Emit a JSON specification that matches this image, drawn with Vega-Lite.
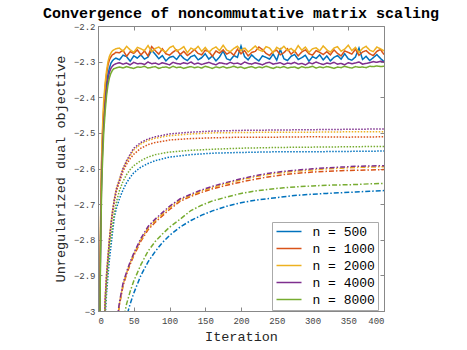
{
  "$schema": "https://vega.github.io/schema/vega-lite/v6.json",
  "width": 286,
  "height": 285,
  "autosize": {"type": "none"},
  "padding": {"left": 98, "top": 26, "right": 83, "bottom": 39},
  "background": "white",
  "title": {"text": "Convergence of noncommutative matrix scaling", "font": "Liberation Mono", "fontSize": 15, "fontWeight": "bold", "color": "#000000", "anchor": "middle", "offset": 1},
  "config": {
    "view": {"stroke": "#888888", "strokeWidth": 1},
    "axis": {"grid": false, "domainColor": "#888888", "tickColor": "#888888", "labelFont": "Liberation Mono", "labelFontSize": 9, "labelColor": "#444444", "titleFont": "Liberation Mono", "titleFontSize": 13.5, "titleFontWeight": "normal", "titleColor": "#262626"}
  },
  "data": {"values": [
    {"k":"s","n":500,"x":0,"y":-4.0},{"k":"s","n":500,"x":1,"y":-3.5},{"k":"s","n":500,"x":2,"y":-3.15},{"k":"s","n":500,"x":3,"y":-2.9},{"k":"s","n":500,"x":4,"y":-2.73},{"k":"s","n":500,"x":5,"y":-2.62},{"k":"s","n":500,"x":6,"y":-2.55},{"k":"s","n":500,"x":7,"y":-2.5},{"k":"s","n":500,"x":8,"y":-2.46},{"k":"s","n":500,"x":10,"y":-2.4},{"k":"s","n":500,"x":12,"y":-2.36},{"k":"s","n":500,"x":14,"y":-2.335},{"k":"s","n":500,"x":16,"y":-2.318},{"k":"s","n":500,"x":18,"y":-2.305},{"k":"s","n":500,"x":20,"y":-2.298},{"k":"s","n":500,"x":22,"y":-2.294},{"k":"s","n":500,"x":25,"y":-2.29},
    {"k":"s","n":500,"x":30,"y":-2.295},{"k":"s","n":500,"x":35,"y":-2.282},{"k":"s","n":500,"x":40,"y":-2.286},{"k":"s","n":500,"x":45,"y":-2.299},{"k":"s","n":500,"x":50,"y":-2.284},{"k":"s","n":500,"x":55,"y":-2.29},{"k":"s","n":500,"x":60,"y":-2.281},{"k":"s","n":500,"x":65,"y":-2.293},{"k":"s","n":500,"x":70,"y":-2.287},{"k":"s","n":500,"x":75,"y":-2.268},{"k":"s","n":500,"x":80,"y":-2.279},{"k":"s","n":500,"x":85,"y":-2.292},{"k":"s","n":500,"x":90,"y":-2.283},{"k":"s","n":500,"x":95,"y":-2.298},{"k":"s","n":500,"x":100,"y":-2.288},{"k":"s","n":500,"x":105,"y":-2.285},{"k":"s","n":500,"x":110,"y":-2.294},{"k":"s","n":500,"x":115,"y":-2.28},{"k":"s","n":500,"x":120,"y":-2.291},{"k":"s","n":500,"x":125,"y":-2.297},{"k":"s","n":500,"x":130,"y":-2.286},{"k":"s","n":500,"x":135,"y":-2.282},{"k":"s","n":500,"x":140,"y":-2.295},{"k":"s","n":500,"x":145,"y":-2.289},{"k":"s","n":500,"x":150,"y":-2.278},{"k":"s","n":500,"x":155,"y":-2.293},{"k":"s","n":500,"x":160,"y":-2.284},{"k":"s","n":500,"x":165,"y":-2.298},{"k":"s","n":500,"x":170,"y":-2.287},{"k":"s","n":500,"x":175,"y":-2.27},{"k":"s","n":500,"x":180,"y":-2.292},{"k":"s","n":500,"x":185,"y":-2.296},{"k":"s","n":500,"x":190,"y":-2.283},{"k":"s","n":500,"x":195,"y":-2.288},{"k":"s","n":500,"x":200,"y":-2.256},{"k":"s","n":500,"x":205,"y":-2.286},{"k":"s","n":500,"x":210,"y":-2.295},{"k":"s","n":500,"x":215,"y":-2.281},{"k":"s","n":500,"x":220,"y":-2.291},{"k":"s","n":500,"x":225,"y":-2.298},{"k":"s","n":500,"x":230,"y":-2.284},{"k":"s","n":500,"x":235,"y":-2.288},{"k":"s","n":500,"x":240,"y":-2.293},{"k":"s","n":500,"x":245,"y":-2.279},{"k":"s","n":500,"x":250,"y":-2.296},{"k":"s","n":500,"x":255,"y":-2.266},{"k":"s","n":500,"x":260,"y":-2.292},{"k":"s","n":500,"x":265,"y":-2.297},{"k":"s","n":500,"x":270,"y":-2.285},{"k":"s","n":500,"x":275,"y":-2.28},{"k":"s","n":500,"x":280,"y":-2.294},{"k":"s","n":500,"x":285,"y":-2.289},{"k":"s","n":500,"x":290,"y":-2.282},{"k":"s","n":500,"x":295,"y":-2.299},{"k":"s","n":500,"x":300,"y":-2.286},{"k":"s","n":500,"x":305,"y":-2.291},{"k":"s","n":500,"x":310,"y":-2.281},{"k":"s","n":500,"x":315,"y":-2.295},{"k":"s","n":500,"x":320,"y":-2.284},{"k":"s","n":500,"x":325,"y":-2.298},{"k":"s","n":500,"x":330,"y":-2.288},{"k":"s","n":500,"x":335,"y":-2.283},{"k":"s","n":500,"x":340,"y":-2.293},{"k":"s","n":500,"x":345,"y":-2.278},{"k":"s","n":500,"x":350,"y":-2.292},{"k":"s","n":500,"x":355,"y":-2.296},{"k":"s","n":500,"x":360,"y":-2.287},{"k":"s","n":500,"x":365,"y":-2.262},{"k":"s","n":500,"x":370,"y":-2.294},{"k":"s","n":500,"x":375,"y":-2.285},{"k":"s","n":500,"x":380,"y":-2.297},{"k":"s","n":500,"x":385,"y":-2.289},{"k":"s","n":500,"x":390,"y":-2.28},{"k":"s","n":500,"x":395,"y":-2.291},{"k":"s","n":500,"x":400,"y":-2.3},
    {"k":"s","n":1000,"x":0,"y":-4.0},{"k":"s","n":1000,"x":1,"y":-3.5},{"k":"s","n":1000,"x":2,"y":-3.12},{"k":"s","n":1000,"x":3,"y":-2.87},{"k":"s","n":1000,"x":4,"y":-2.7},{"k":"s","n":1000,"x":5,"y":-2.59},{"k":"s","n":1000,"x":6,"y":-2.52},{"k":"s","n":1000,"x":7,"y":-2.47},{"k":"s","n":1000,"x":8,"y":-2.43},{"k":"s","n":1000,"x":10,"y":-2.37},{"k":"s","n":1000,"x":12,"y":-2.335},{"k":"s","n":1000,"x":14,"y":-2.31},{"k":"s","n":1000,"x":16,"y":-2.295},{"k":"s","n":1000,"x":18,"y":-2.287},{"k":"s","n":1000,"x":20,"y":-2.281},{"k":"s","n":1000,"x":22,"y":-2.279},{"k":"s","n":1000,"x":25,"y":-2.274},
    {"k":"s","n":1000,"x":30,"y":-2.275},{"k":"s","n":1000,"x":35,"y":-2.268},{"k":"s","n":1000,"x":40,"y":-2.285},{"k":"s","n":1000,"x":45,"y":-2.272},{"k":"s","n":1000,"x":50,"y":-2.277},{"k":"s","n":1000,"x":55,"y":-2.267},{"k":"s","n":1000,"x":60,"y":-2.281},{"k":"s","n":1000,"x":65,"y":-2.27},{"k":"s","n":1000,"x":70,"y":-2.284},{"k":"s","n":1000,"x":75,"y":-2.258},{"k":"s","n":1000,"x":80,"y":-2.269},{"k":"s","n":1000,"x":85,"y":-2.279},{"k":"s","n":1000,"x":90,"y":-2.264},{"k":"s","n":1000,"x":95,"y":-2.278},{"k":"s","n":1000,"x":100,"y":-2.282},{"k":"s","n":1000,"x":105,"y":-2.273},{"k":"s","n":1000,"x":110,"y":-2.267},{"k":"s","n":1000,"x":115,"y":-2.28},{"k":"s","n":1000,"x":120,"y":-2.271},{"k":"s","n":1000,"x":125,"y":-2.283},{"k":"s","n":1000,"x":130,"y":-2.275},{"k":"s","n":1000,"x":135,"y":-2.266},{"k":"s","n":1000,"x":140,"y":-2.277},{"k":"s","n":1000,"x":145,"y":-2.281},{"k":"s","n":1000,"x":150,"y":-2.268},{"k":"s","n":1000,"x":155,"y":-2.272},{"k":"s","n":1000,"x":160,"y":-2.285},{"k":"s","n":1000,"x":165,"y":-2.27},{"k":"s","n":1000,"x":170,"y":-2.276},{"k":"s","n":1000,"x":175,"y":-2.267},{"k":"s","n":1000,"x":180,"y":-2.279},{"k":"s","n":1000,"x":185,"y":-2.273},{"k":"s","n":1000,"x":190,"y":-2.282},{"k":"s","n":1000,"x":195,"y":-2.265},{"k":"s","n":1000,"x":200,"y":-2.278},{"k":"s","n":1000,"x":205,"y":-2.269},{"k":"s","n":1000,"x":210,"y":-2.284},{"k":"s","n":1000,"x":215,"y":-2.274},{"k":"s","n":1000,"x":220,"y":-2.271},{"k":"s","n":1000,"x":225,"y":-2.259},{"k":"s","n":1000,"x":230,"y":-2.266},{"k":"s","n":1000,"x":235,"y":-2.277},{"k":"s","n":1000,"x":240,"y":-2.283},{"k":"s","n":1000,"x":245,"y":-2.272},{"k":"s","n":1000,"x":250,"y":-2.268},{"k":"s","n":1000,"x":255,"y":-2.281},{"k":"s","n":1000,"x":260,"y":-2.275},{"k":"s","n":1000,"x":265,"y":-2.264},{"k":"s","n":1000,"x":270,"y":-2.279},{"k":"s","n":1000,"x":275,"y":-2.27},{"k":"s","n":1000,"x":280,"y":-2.284},{"k":"s","n":1000,"x":285,"y":-2.273},{"k":"s","n":1000,"x":290,"y":-2.267},{"k":"s","n":1000,"x":295,"y":-2.278},{"k":"s","n":1000,"x":300,"y":-2.282},{"k":"s","n":1000,"x":305,"y":-2.269},{"k":"s","n":1000,"x":310,"y":-2.274},{"k":"s","n":1000,"x":315,"y":-2.28},{"k":"s","n":1000,"x":320,"y":-2.272},{"k":"s","n":1000,"x":325,"y":-2.281},{"k":"s","n":1000,"x":330,"y":-2.267},{"k":"s","n":1000,"x":335,"y":-2.277},{"k":"s","n":1000,"x":340,"y":-2.284},{"k":"s","n":1000,"x":345,"y":-2.27},{"k":"s","n":1000,"x":350,"y":-2.274},{"k":"s","n":1000,"x":355,"y":-2.279},{"k":"s","n":1000,"x":360,"y":-2.265},{"k":"s","n":1000,"x":365,"y":-2.282},{"k":"s","n":1000,"x":370,"y":-2.273},{"k":"s","n":1000,"x":375,"y":-2.269},{"k":"s","n":1000,"x":380,"y":-2.278},{"k":"s","n":1000,"x":385,"y":-2.283},{"k":"s","n":1000,"x":390,"y":-2.271},{"k":"s","n":1000,"x":395,"y":-2.266},{"k":"s","n":1000,"x":400,"y":-2.28},
    {"k":"s","n":2000,"x":0,"y":-4.0},{"k":"s","n":2000,"x":1,"y":-3.45},{"k":"s","n":2000,"x":2,"y":-3.1},{"k":"s","n":2000,"x":3,"y":-2.85},{"k":"s","n":2000,"x":4,"y":-2.68},{"k":"s","n":2000,"x":5,"y":-2.57},{"k":"s","n":2000,"x":6,"y":-2.5},{"k":"s","n":2000,"x":7,"y":-2.45},{"k":"s","n":2000,"x":8,"y":-2.41},{"k":"s","n":2000,"x":10,"y":-2.36},{"k":"s","n":2000,"x":12,"y":-2.325},{"k":"s","n":2000,"x":14,"y":-2.3},{"k":"s","n":2000,"x":16,"y":-2.285},{"k":"s","n":2000,"x":18,"y":-2.276},{"k":"s","n":2000,"x":20,"y":-2.27},{"k":"s","n":2000,"x":22,"y":-2.267},{"k":"s","n":2000,"x":25,"y":-2.264},
    {"k":"s","n":2000,"x":30,"y":-2.262},{"k":"s","n":2000,"x":35,"y":-2.271},{"k":"s","n":2000,"x":40,"y":-2.257},{"k":"s","n":2000,"x":45,"y":-2.267},{"k":"s","n":2000,"x":50,"y":-2.274},{"k":"s","n":2000,"x":55,"y":-2.26},{"k":"s","n":2000,"x":60,"y":-2.264},{"k":"s","n":2000,"x":65,"y":-2.269},{"k":"s","n":2000,"x":70,"y":-2.255},{"k":"s","n":2000,"x":75,"y":-2.272},{"k":"s","n":2000,"x":80,"y":-2.263},{"k":"s","n":2000,"x":85,"y":-2.259},{"k":"s","n":2000,"x":90,"y":-2.268},{"k":"s","n":2000,"x":95,"y":-2.273},{"k":"s","n":2000,"x":100,"y":-2.261},{"k":"s","n":2000,"x":105,"y":-2.256},{"k":"s","n":2000,"x":110,"y":-2.27},{"k":"s","n":2000,"x":115,"y":-2.265},{"k":"s","n":2000,"x":120,"y":-2.258},{"k":"s","n":2000,"x":125,"y":-2.275},{"k":"s","n":2000,"x":130,"y":-2.262},{"k":"s","n":2000,"x":135,"y":-2.267},{"k":"s","n":2000,"x":140,"y":-2.257},{"k":"s","n":2000,"x":145,"y":-2.271},{"k":"s","n":2000,"x":150,"y":-2.26},{"k":"s","n":2000,"x":155,"y":-2.274},{"k":"s","n":2000,"x":160,"y":-2.264},{"k":"s","n":2000,"x":165,"y":-2.259},{"k":"s","n":2000,"x":170,"y":-2.269},{"k":"s","n":2000,"x":175,"y":-2.254},{"k":"s","n":2000,"x":180,"y":-2.268},{"k":"s","n":2000,"x":185,"y":-2.272},{"k":"s","n":2000,"x":190,"y":-2.263},{"k":"s","n":2000,"x":195,"y":-2.257},{"k":"s","n":2000,"x":200,"y":-2.27},{"k":"s","n":2000,"x":205,"y":-2.261},{"k":"s","n":2000,"x":210,"y":-2.273},{"k":"s","n":2000,"x":215,"y":-2.265},{"k":"s","n":2000,"x":220,"y":-2.256},{"k":"s","n":2000,"x":225,"y":-2.267},{"k":"s","n":2000,"x":230,"y":-2.271},{"k":"s","n":2000,"x":235,"y":-2.258},{"k":"s","n":2000,"x":240,"y":-2.262},{"k":"s","n":2000,"x":245,"y":-2.275},{"k":"s","n":2000,"x":250,"y":-2.26},{"k":"s","n":2000,"x":255,"y":-2.266},{"k":"s","n":2000,"x":260,"y":-2.257},{"k":"s","n":2000,"x":265,"y":-2.269},{"k":"s","n":2000,"x":270,"y":-2.263},{"k":"s","n":2000,"x":275,"y":-2.272},{"k":"s","n":2000,"x":280,"y":-2.255},{"k":"s","n":2000,"x":285,"y":-2.268},{"k":"s","n":2000,"x":290,"y":-2.259},{"k":"s","n":2000,"x":295,"y":-2.274},{"k":"s","n":2000,"x":300,"y":-2.264},{"k":"s","n":2000,"x":305,"y":-2.261},{"k":"s","n":2000,"x":310,"y":-2.27},{"k":"s","n":2000,"x":315,"y":-2.256},{"k":"s","n":2000,"x":320,"y":-2.267},{"k":"s","n":2000,"x":325,"y":-2.273},{"k":"s","n":2000,"x":330,"y":-2.262},{"k":"s","n":2000,"x":335,"y":-2.258},{"k":"s","n":2000,"x":340,"y":-2.271},{"k":"s","n":2000,"x":345,"y":-2.265},{"k":"s","n":2000,"x":350,"y":-2.254},{"k":"s","n":2000,"x":355,"y":-2.269},{"k":"s","n":2000,"x":360,"y":-2.26},{"k":"s","n":2000,"x":365,"y":-2.274},{"k":"s","n":2000,"x":370,"y":-2.263},{"k":"s","n":2000,"x":375,"y":-2.257},{"k":"s","n":2000,"x":380,"y":-2.268},{"k":"s","n":2000,"x":385,"y":-2.272},{"k":"s","n":2000,"x":390,"y":-2.259},{"k":"s","n":2000,"x":395,"y":-2.264},{"k":"s","n":2000,"x":400,"y":-2.27},
    {"k":"s","n":4000,"x":0,"y":-4.0},{"k":"s","n":4000,"x":1,"y":-3.55},{"k":"s","n":4000,"x":2,"y":-3.17},{"k":"s","n":4000,"x":3,"y":-2.92},{"k":"s","n":4000,"x":4,"y":-2.75},{"k":"s","n":4000,"x":5,"y":-2.64},{"k":"s","n":4000,"x":6,"y":-2.57},{"k":"s","n":4000,"x":7,"y":-2.52},{"k":"s","n":4000,"x":8,"y":-2.48},{"k":"s","n":4000,"x":10,"y":-2.42},{"k":"s","n":4000,"x":12,"y":-2.38},{"k":"s","n":4000,"x":14,"y":-2.35},{"k":"s","n":4000,"x":16,"y":-2.33},{"k":"s","n":4000,"x":18,"y":-2.319},{"k":"s","n":4000,"x":20,"y":-2.313},{"k":"s","n":4000,"x":22,"y":-2.309},{"k":"s","n":4000,"x":25,"y":-2.306},
    {"k":"s","n":4000,"x":30,"y":-2.303},{"k":"s","n":4000,"x":35,"y":-2.307},{"k":"s","n":4000,"x":40,"y":-2.304},{"k":"s","n":4000,"x":45,"y":-2.309},{"k":"s","n":4000,"x":50,"y":-2.302},{"k":"s","n":4000,"x":55,"y":-2.306},{"k":"s","n":4000,"x":60,"y":-2.305},{"k":"s","n":4000,"x":65,"y":-2.308},{"k":"s","n":4000,"x":70,"y":-2.301},{"k":"s","n":4000,"x":75,"y":-2.306},{"k":"s","n":4000,"x":80,"y":-2.304},{"k":"s","n":4000,"x":85,"y":-2.308},{"k":"s","n":4000,"x":90,"y":-2.303},{"k":"s","n":4000,"x":95,"y":-2.306},{"k":"s","n":4000,"x":100,"y":-2.309},{"k":"s","n":4000,"x":105,"y":-2.302},{"k":"s","n":4000,"x":110,"y":-2.305},{"k":"s","n":4000,"x":115,"y":-2.307},{"k":"s","n":4000,"x":120,"y":-2.303},{"k":"s","n":4000,"x":125,"y":-2.306},{"k":"s","n":4000,"x":130,"y":-2.301},{"k":"s","n":4000,"x":135,"y":-2.307},{"k":"s","n":4000,"x":140,"y":-2.304},{"k":"s","n":4000,"x":145,"y":-2.308},{"k":"s","n":4000,"x":150,"y":-2.305},{"k":"s","n":4000,"x":155,"y":-2.302},{"k":"s","n":4000,"x":160,"y":-2.306},{"k":"s","n":4000,"x":165,"y":-2.309},{"k":"s","n":4000,"x":170,"y":-2.303},{"k":"s","n":4000,"x":175,"y":-2.305},{"k":"s","n":4000,"x":180,"y":-2.307},{"k":"s","n":4000,"x":185,"y":-2.302},{"k":"s","n":4000,"x":190,"y":-2.306},{"k":"s","n":4000,"x":195,"y":-2.304},{"k":"s","n":4000,"x":200,"y":-2.308},{"k":"s","n":4000,"x":205,"y":-2.301},{"k":"s","n":4000,"x":210,"y":-2.305},{"k":"s","n":4000,"x":215,"y":-2.307},{"k":"s","n":4000,"x":220,"y":-2.303},{"k":"s","n":4000,"x":225,"y":-2.306},{"k":"s","n":4000,"x":230,"y":-2.309},{"k":"s","n":4000,"x":235,"y":-2.304},{"k":"s","n":4000,"x":240,"y":-2.302},{"k":"s","n":4000,"x":245,"y":-2.307},{"k":"s","n":4000,"x":250,"y":-2.305},{"k":"s","n":4000,"x":255,"y":-2.303},{"k":"s","n":4000,"x":260,"y":-2.308},{"k":"s","n":4000,"x":265,"y":-2.304},{"k":"s","n":4000,"x":270,"y":-2.306},{"k":"s","n":4000,"x":275,"y":-2.302},{"k":"s","n":4000,"x":280,"y":-2.307},{"k":"s","n":4000,"x":285,"y":-2.305},{"k":"s","n":4000,"x":290,"y":-2.309},{"k":"s","n":4000,"x":295,"y":-2.303},{"k":"s","n":4000,"x":300,"y":-2.306},{"k":"s","n":4000,"x":305,"y":-2.301},{"k":"s","n":4000,"x":310,"y":-2.305},{"k":"s","n":4000,"x":315,"y":-2.308},{"k":"s","n":4000,"x":320,"y":-2.304},{"k":"s","n":4000,"x":325,"y":-2.306},{"k":"s","n":4000,"x":330,"y":-2.302},{"k":"s","n":4000,"x":335,"y":-2.307},{"k":"s","n":4000,"x":340,"y":-2.305},{"k":"s","n":4000,"x":345,"y":-2.309},{"k":"s","n":4000,"x":350,"y":-2.303},{"k":"s","n":4000,"x":355,"y":-2.306},{"k":"s","n":4000,"x":360,"y":-2.304},{"k":"s","n":4000,"x":365,"y":-2.301},{"k":"s","n":4000,"x":370,"y":-2.307},{"k":"s","n":4000,"x":375,"y":-2.305},{"k":"s","n":4000,"x":380,"y":-2.303},{"k":"s","n":4000,"x":385,"y":-2.3},{"k":"s","n":4000,"x":390,"y":-2.302},{"k":"s","n":4000,"x":395,"y":-2.299},{"k":"s","n":4000,"x":400,"y":-2.301},
    {"k":"s","n":8000,"x":0,"y":-4.0},{"k":"s","n":8000,"x":1,"y":-3.6},{"k":"s","n":8000,"x":2,"y":-3.2},{"k":"s","n":8000,"x":3,"y":-2.95},{"k":"s","n":8000,"x":4,"y":-2.78},{"k":"s","n":8000,"x":5,"y":-2.67},{"k":"s","n":8000,"x":6,"y":-2.6},{"k":"s","n":8000,"x":7,"y":-2.55},{"k":"s","n":8000,"x":8,"y":-2.5},{"k":"s","n":8000,"x":10,"y":-2.44},{"k":"s","n":8000,"x":12,"y":-2.395},{"k":"s","n":8000,"x":14,"y":-2.365},{"k":"s","n":8000,"x":16,"y":-2.345},{"k":"s","n":8000,"x":18,"y":-2.333},{"k":"s","n":8000,"x":20,"y":-2.325},{"k":"s","n":8000,"x":22,"y":-2.32},{"k":"s","n":8000,"x":25,"y":-2.318},
    {"k":"s","n":8000,"x":30,"y":-2.315},{"k":"s","n":8000,"x":35,"y":-2.318},{"k":"s","n":8000,"x":40,"y":-2.314},{"k":"s","n":8000,"x":45,"y":-2.317},{"k":"s","n":8000,"x":50,"y":-2.319},{"k":"s","n":8000,"x":55,"y":-2.315},{"k":"s","n":8000,"x":60,"y":-2.316},{"k":"s","n":8000,"x":65,"y":-2.313},{"k":"s","n":8000,"x":70,"y":-2.318},{"k":"s","n":8000,"x":75,"y":-2.316},{"k":"s","n":8000,"x":80,"y":-2.314},{"k":"s","n":8000,"x":85,"y":-2.319},{"k":"s","n":8000,"x":90,"y":-2.316},{"k":"s","n":8000,"x":95,"y":-2.315},{"k":"s","n":8000,"x":100,"y":-2.318},{"k":"s","n":8000,"x":105,"y":-2.313},{"k":"s","n":8000,"x":110,"y":-2.317},{"k":"s","n":8000,"x":115,"y":-2.315},{"k":"s","n":8000,"x":120,"y":-2.319},{"k":"s","n":8000,"x":125,"y":-2.316},{"k":"s","n":8000,"x":130,"y":-2.314},{"k":"s","n":8000,"x":135,"y":-2.317},{"k":"s","n":8000,"x":140,"y":-2.315},{"k":"s","n":8000,"x":145,"y":-2.318},{"k":"s","n":8000,"x":150,"y":-2.313},{"k":"s","n":8000,"x":155,"y":-2.316},{"k":"s","n":8000,"x":160,"y":-2.319},{"k":"s","n":8000,"x":165,"y":-2.315},{"k":"s","n":8000,"x":170,"y":-2.317},{"k":"s","n":8000,"x":175,"y":-2.314},{"k":"s","n":8000,"x":180,"y":-2.318},{"k":"s","n":8000,"x":185,"y":-2.316},{"k":"s","n":8000,"x":190,"y":-2.313},{"k":"s","n":8000,"x":195,"y":-2.317},{"k":"s","n":8000,"x":200,"y":-2.315},{"k":"s","n":8000,"x":205,"y":-2.319},{"k":"s","n":8000,"x":210,"y":-2.316},{"k":"s","n":8000,"x":215,"y":-2.314},{"k":"s","n":8000,"x":220,"y":-2.318},{"k":"s","n":8000,"x":225,"y":-2.315},{"k":"s","n":8000,"x":230,"y":-2.317},{"k":"s","n":8000,"x":235,"y":-2.313},{"k":"s","n":8000,"x":240,"y":-2.316},{"k":"s","n":8000,"x":245,"y":-2.319},{"k":"s","n":8000,"x":250,"y":-2.315},{"k":"s","n":8000,"x":255,"y":-2.317},{"k":"s","n":8000,"x":260,"y":-2.314},{"k":"s","n":8000,"x":265,"y":-2.318},{"k":"s","n":8000,"x":270,"y":-2.316},{"k":"s","n":8000,"x":275,"y":-2.315},{"k":"s","n":8000,"x":280,"y":-2.319},{"k":"s","n":8000,"x":285,"y":-2.314},{"k":"s","n":8000,"x":290,"y":-2.317},{"k":"s","n":8000,"x":295,"y":-2.316},{"k":"s","n":8000,"x":300,"y":-2.313},{"k":"s","n":8000,"x":305,"y":-2.318},{"k":"s","n":8000,"x":310,"y":-2.315},{"k":"s","n":8000,"x":315,"y":-2.317},{"k":"s","n":8000,"x":320,"y":-2.314},{"k":"s","n":8000,"x":325,"y":-2.316},{"k":"s","n":8000,"x":330,"y":-2.319},{"k":"s","n":8000,"x":335,"y":-2.315},{"k":"s","n":8000,"x":340,"y":-2.317},{"k":"s","n":8000,"x":345,"y":-2.313},{"k":"s","n":8000,"x":350,"y":-2.316},{"k":"s","n":8000,"x":355,"y":-2.318},{"k":"s","n":8000,"x":360,"y":-2.314},{"k":"s","n":8000,"x":365,"y":-2.316},{"k":"s","n":8000,"x":370,"y":-2.315},{"k":"s","n":8000,"x":375,"y":-2.317},{"k":"s","n":8000,"x":380,"y":-2.313},{"k":"s","n":8000,"x":385,"y":-2.314},{"k":"s","n":8000,"x":390,"y":-2.312},{"k":"s","n":8000,"x":395,"y":-2.314},{"k":"s","n":8000,"x":400,"y":-2.313},
    {"k":"d","n":500,"x":8,"y":-3.2},{"k":"d","n":500,"x":10,"y":-3.02},{"k":"d","n":500,"x":12,"y":-2.95},{"k":"d","n":500,"x":14,"y":-2.9},{"k":"d","n":500,"x":16,"y":-2.855},{"k":"d","n":500,"x":18,"y":-2.82},{"k":"d","n":500,"x":20,"y":-2.785},{"k":"d","n":500,"x":23,"y":-2.735},{"k":"d","n":500,"x":26,"y":-2.71},{"k":"d","n":500,"x":30,"y":-2.685},{"k":"d","n":500,"x":35,"y":-2.66},{"k":"d","n":500,"x":40,"y":-2.64},{"k":"d","n":500,"x":45,"y":-2.625},{"k":"d","n":500,"x":50,"y":-2.612},{"k":"d","n":500,"x":60,"y":-2.596},{"k":"d","n":500,"x":70,"y":-2.586},{"k":"d","n":500,"x":80,"y":-2.578},{"k":"d","n":500,"x":100,"y":-2.568},{"k":"d","n":500,"x":130,"y":-2.561},{"k":"d","n":500,"x":160,"y":-2.557},{"k":"d","n":500,"x":200,"y":-2.555},{"k":"d","n":500,"x":250,"y":-2.553},{"k":"d","n":500,"x":300,"y":-2.553},{"k":"d","n":500,"x":350,"y":-2.552},{"k":"d","n":500,"x":400,"y":-2.551},
    {"k":"d","n":1000,"x":8,"y":-3.12},{"k":"d","n":1000,"x":10,"y":-2.97},{"k":"d","n":1000,"x":12,"y":-2.9},{"k":"d","n":1000,"x":14,"y":-2.85},{"k":"d","n":1000,"x":16,"y":-2.8},{"k":"d","n":1000,"x":18,"y":-2.762},{"k":"d","n":1000,"x":20,"y":-2.73},{"k":"d","n":1000,"x":23,"y":-2.69},{"k":"d","n":1000,"x":26,"y":-2.662},{"k":"d","n":1000,"x":30,"y":-2.638},{"k":"d","n":1000,"x":35,"y":-2.608},{"k":"d","n":1000,"x":40,"y":-2.588},{"k":"d","n":1000,"x":45,"y":-2.572},{"k":"d","n":1000,"x":50,"y":-2.56},{"k":"d","n":1000,"x":60,"y":-2.543},{"k":"d","n":1000,"x":70,"y":-2.533},{"k":"d","n":1000,"x":80,"y":-2.527},{"k":"d","n":1000,"x":100,"y":-2.52},{"k":"d","n":1000,"x":130,"y":-2.516},{"k":"d","n":1000,"x":160,"y":-2.514},{"k":"d","n":1000,"x":200,"y":-2.512},{"k":"d","n":1000,"x":250,"y":-2.512},{"k":"d","n":1000,"x":300,"y":-2.511},{"k":"d","n":1000,"x":350,"y":-2.512},{"k":"d","n":1000,"x":400,"y":-2.511},
    {"k":"d","n":2000,"x":8,"y":-3.1},{"k":"d","n":2000,"x":10,"y":-2.96},{"k":"d","n":2000,"x":12,"y":-2.89},{"k":"d","n":2000,"x":14,"y":-2.84},{"k":"d","n":2000,"x":16,"y":-2.795},{"k":"d","n":2000,"x":18,"y":-2.755},{"k":"d","n":2000,"x":20,"y":-2.722},{"k":"d","n":2000,"x":23,"y":-2.683},{"k":"d","n":2000,"x":26,"y":-2.654},{"k":"d","n":2000,"x":30,"y":-2.63},{"k":"d","n":2000,"x":35,"y":-2.6},{"k":"d","n":2000,"x":40,"y":-2.58},{"k":"d","n":2000,"x":45,"y":-2.563},{"k":"d","n":2000,"x":50,"y":-2.548},{"k":"d","n":2000,"x":60,"y":-2.531},{"k":"d","n":2000,"x":70,"y":-2.521},{"k":"d","n":2000,"x":80,"y":-2.515},{"k":"d","n":2000,"x":100,"y":-2.508},{"k":"d","n":2000,"x":130,"y":-2.503},{"k":"d","n":2000,"x":160,"y":-2.5},{"k":"d","n":2000,"x":200,"y":-2.499},{"k":"d","n":2000,"x":250,"y":-2.498},{"k":"d","n":2000,"x":300,"y":-2.498},{"k":"d","n":2000,"x":350,"y":-2.497},{"k":"d","n":2000,"x":400,"y":-2.497},
    {"k":"d","n":4000,"x":8,"y":-3.12},{"k":"d","n":4000,"x":10,"y":-2.97},{"k":"d","n":4000,"x":12,"y":-2.9},{"k":"d","n":4000,"x":14,"y":-2.85},{"k":"d","n":4000,"x":16,"y":-2.8},{"k":"d","n":4000,"x":18,"y":-2.76},{"k":"d","n":4000,"x":20,"y":-2.725},{"k":"d","n":4000,"x":23,"y":-2.685},{"k":"d","n":4000,"x":26,"y":-2.655},{"k":"d","n":4000,"x":30,"y":-2.632},{"k":"d","n":4000,"x":35,"y":-2.6},{"k":"d","n":4000,"x":40,"y":-2.578},{"k":"d","n":4000,"x":45,"y":-2.56},{"k":"d","n":4000,"x":50,"y":-2.543},{"k":"d","n":4000,"x":60,"y":-2.527},{"k":"d","n":4000,"x":70,"y":-2.517},{"k":"d","n":4000,"x":80,"y":-2.511},{"k":"d","n":4000,"x":100,"y":-2.503},{"k":"d","n":4000,"x":130,"y":-2.498},{"k":"d","n":4000,"x":160,"y":-2.495},{"k":"d","n":4000,"x":200,"y":-2.493},{"k":"d","n":4000,"x":250,"y":-2.492},{"k":"d","n":4000,"x":300,"y":-2.491},{"k":"d","n":4000,"x":350,"y":-2.49},{"k":"d","n":4000,"x":400,"y":-2.489},
    {"k":"d","n":8000,"x":8,"y":-3.15},{"k":"d","n":8000,"x":10,"y":-3.0},{"k":"d","n":8000,"x":12,"y":-2.93},{"k":"d","n":8000,"x":14,"y":-2.87},{"k":"d","n":8000,"x":16,"y":-2.825},{"k":"d","n":8000,"x":18,"y":-2.793},{"k":"d","n":8000,"x":20,"y":-2.765},{"k":"d","n":8000,"x":23,"y":-2.722},{"k":"d","n":8000,"x":26,"y":-2.692},{"k":"d","n":8000,"x":30,"y":-2.662},{"k":"d","n":8000,"x":35,"y":-2.636},{"k":"d","n":8000,"x":40,"y":-2.617},{"k":"d","n":8000,"x":45,"y":-2.603},{"k":"d","n":8000,"x":50,"y":-2.592},{"k":"d","n":8000,"x":60,"y":-2.578},{"k":"d","n":8000,"x":70,"y":-2.568},{"k":"d","n":8000,"x":80,"y":-2.561},{"k":"d","n":8000,"x":100,"y":-2.554},{"k":"d","n":8000,"x":130,"y":-2.549},{"k":"d","n":8000,"x":160,"y":-2.546},{"k":"d","n":8000,"x":200,"y":-2.543},{"k":"d","n":8000,"x":250,"y":-2.541},{"k":"d","n":8000,"x":300,"y":-2.54},{"k":"d","n":8000,"x":350,"y":-2.539},{"k":"d","n":8000,"x":400,"y":-2.538},
    {"k":"c","n":500,"x":25,"y":-3.21},{"k":"c","n":500,"x":30,"y":-3.13},{"k":"c","n":500,"x":35,"y":-3.065},{"k":"c","n":500,"x":40,"y":-3.015},{"k":"c","n":500,"x":45,"y":-2.98},{"k":"c","n":500,"x":50,"y":-2.95},{"k":"c","n":500,"x":60,"y":-2.9},{"k":"c","n":500,"x":70,"y":-2.862},{"k":"c","n":500,"x":80,"y":-2.833},{"k":"c","n":500,"x":90,"y":-2.808},{"k":"c","n":500,"x":100,"y":-2.788},{"k":"c","n":500,"x":115,"y":-2.764},{"k":"c","n":500,"x":130,"y":-2.746},{"k":"c","n":500,"x":145,"y":-2.731},{"k":"c","n":500,"x":160,"y":-2.719},{"k":"c","n":500,"x":180,"y":-2.706},{"k":"c","n":500,"x":200,"y":-2.696},{"k":"c","n":500,"x":220,"y":-2.689},{"k":"c","n":500,"x":240,"y":-2.684},{"k":"c","n":500,"x":260,"y":-2.679},{"k":"c","n":500,"x":280,"y":-2.675},{"k":"c","n":500,"x":300,"y":-2.672},{"k":"c","n":500,"x":320,"y":-2.67},{"k":"c","n":500,"x":340,"y":-2.668},{"k":"c","n":500,"x":360,"y":-2.666},{"k":"c","n":500,"x":380,"y":-2.664},{"k":"c","n":500,"x":400,"y":-2.662},
    {"k":"c","n":1000,"x":25,"y":-3.06},{"k":"c","n":1000,"x":30,"y":-2.983},{"k":"c","n":1000,"x":35,"y":-2.93},{"k":"c","n":1000,"x":40,"y":-2.897},{"k":"c","n":1000,"x":45,"y":-2.869},{"k":"c","n":1000,"x":50,"y":-2.845},{"k":"c","n":1000,"x":60,"y":-2.804},{"k":"c","n":1000,"x":70,"y":-2.772},{"k":"c","n":1000,"x":80,"y":-2.751},{"k":"c","n":1000,"x":90,"y":-2.733},{"k":"c","n":1000,"x":100,"y":-2.715},{"k":"c","n":1000,"x":115,"y":-2.692},{"k":"c","n":1000,"x":130,"y":-2.678},{"k":"c","n":1000,"x":145,"y":-2.667},{"k":"c","n":1000,"x":160,"y":-2.657},{"k":"c","n":1000,"x":180,"y":-2.647},{"k":"c","n":1000,"x":200,"y":-2.638},{"k":"c","n":1000,"x":220,"y":-2.63},{"k":"c","n":1000,"x":240,"y":-2.623},{"k":"c","n":1000,"x":260,"y":-2.617},{"k":"c","n":1000,"x":280,"y":-2.613},{"k":"c","n":1000,"x":300,"y":-2.61},{"k":"c","n":1000,"x":320,"y":-2.608},{"k":"c","n":1000,"x":340,"y":-2.606},{"k":"c","n":1000,"x":360,"y":-2.605},{"k":"c","n":1000,"x":380,"y":-2.604},{"k":"c","n":1000,"x":400,"y":-2.603},
    {"k":"c","n":2000,"x":25,"y":-3.055},{"k":"c","n":2000,"x":30,"y":-2.979},{"k":"c","n":2000,"x":35,"y":-2.926},{"k":"c","n":2000,"x":40,"y":-2.893},{"k":"c","n":2000,"x":45,"y":-2.865},{"k":"c","n":2000,"x":50,"y":-2.841},{"k":"c","n":2000,"x":60,"y":-2.8},{"k":"c","n":2000,"x":70,"y":-2.767},{"k":"c","n":2000,"x":80,"y":-2.746},{"k":"c","n":2000,"x":90,"y":-2.728},{"k":"c","n":2000,"x":100,"y":-2.71},{"k":"c","n":2000,"x":115,"y":-2.688},{"k":"c","n":2000,"x":130,"y":-2.675},{"k":"c","n":2000,"x":145,"y":-2.663},{"k":"c","n":2000,"x":160,"y":-2.653},{"k":"c","n":2000,"x":180,"y":-2.642},{"k":"c","n":2000,"x":200,"y":-2.632},{"k":"c","n":2000,"x":220,"y":-2.623},{"k":"c","n":2000,"x":240,"y":-2.616},{"k":"c","n":2000,"x":260,"y":-2.611},{"k":"c","n":2000,"x":280,"y":-2.607},{"k":"c","n":2000,"x":300,"y":-2.604},{"k":"c","n":2000,"x":320,"y":-2.601},{"k":"c","n":2000,"x":340,"y":-2.599},{"k":"c","n":2000,"x":360,"y":-2.597},{"k":"c","n":2000,"x":380,"y":-2.596},{"k":"c","n":2000,"x":400,"y":-2.595},
    {"k":"c","n":4000,"x":25,"y":-3.05},{"k":"c","n":4000,"x":30,"y":-2.975},{"k":"c","n":4000,"x":35,"y":-2.922},{"k":"c","n":4000,"x":40,"y":-2.89},{"k":"c","n":4000,"x":45,"y":-2.862},{"k":"c","n":4000,"x":50,"y":-2.838},{"k":"c","n":4000,"x":60,"y":-2.796},{"k":"c","n":4000,"x":70,"y":-2.763},{"k":"c","n":4000,"x":80,"y":-2.742},{"k":"c","n":4000,"x":90,"y":-2.724},{"k":"c","n":4000,"x":100,"y":-2.706},{"k":"c","n":4000,"x":115,"y":-2.685},{"k":"c","n":4000,"x":130,"y":-2.672},{"k":"c","n":4000,"x":145,"y":-2.66},{"k":"c","n":4000,"x":160,"y":-2.65},{"k":"c","n":4000,"x":180,"y":-2.639},{"k":"c","n":4000,"x":200,"y":-2.629},{"k":"c","n":4000,"x":220,"y":-2.62},{"k":"c","n":4000,"x":240,"y":-2.613},{"k":"c","n":4000,"x":260,"y":-2.608},{"k":"c","n":4000,"x":280,"y":-2.604},{"k":"c","n":4000,"x":300,"y":-2.601},{"k":"c","n":4000,"x":320,"y":-2.598},{"k":"c","n":4000,"x":340,"y":-2.596},{"k":"c","n":4000,"x":360,"y":-2.594},{"k":"c","n":4000,"x":380,"y":-2.593},{"k":"c","n":4000,"x":400,"y":-2.592},
    {"k":"c","n":8000,"x":30,"y":-3.1},{"k":"c","n":8000,"x":35,"y":-3.03},{"k":"c","n":8000,"x":40,"y":-2.98},{"k":"c","n":8000,"x":45,"y":-2.945},{"k":"c","n":8000,"x":50,"y":-2.916},{"k":"c","n":8000,"x":60,"y":-2.87},{"k":"c","n":8000,"x":70,"y":-2.832},{"k":"c","n":8000,"x":80,"y":-2.805},{"k":"c","n":8000,"x":90,"y":-2.784},{"k":"c","n":8000,"x":100,"y":-2.765},{"k":"c","n":8000,"x":115,"y":-2.742},{"k":"c","n":8000,"x":130,"y":-2.718},{"k":"c","n":8000,"x":145,"y":-2.703},{"k":"c","n":8000,"x":160,"y":-2.691},{"k":"c","n":8000,"x":180,"y":-2.68},{"k":"c","n":8000,"x":200,"y":-2.67},{"k":"c","n":8000,"x":220,"y":-2.663},{"k":"c","n":8000,"x":240,"y":-2.658},{"k":"c","n":8000,"x":260,"y":-2.654},{"k":"c","n":8000,"x":280,"y":-2.651},{"k":"c","n":8000,"x":300,"y":-2.649},{"k":"c","n":8000,"x":320,"y":-2.647},{"k":"c","n":8000,"x":340,"y":-2.646},{"k":"c","n":8000,"x":360,"y":-2.645},{"k":"c","n":8000,"x":380,"y":-2.643},{"k":"c","n":8000,"x":400,"y":-2.642}
  ]},
  "layer": [
    {
      "mark": {"type": "line", "strokeWidth": 1.5, "clip": true},
      "encoding": {
        "x": {"field": "x", "type": "quantitative", "scale": {"domain": [0, 400], "nice": false, "zero": false},
              "axis": {"orient": "bottom", "values": [0,50,100,150,200,250,300,350,400], "title": "Iteration", "tickSize": -4, "labelPadding": 9, "titlePadding": 4}},
        "y": {"field": "y", "type": "quantitative", "scale": {"domain": [-3, -2.2], "nice": false, "zero": false},
              "axis": {"orient": "left", "values": [-3,-2.9,-2.8,-2.7,-2.6,-2.5,-2.4,-2.3,-2.2], "format": ".1~f", "title": "Unregularized dual objective", "tickSize": -4, "labelPadding": 7, "titlePadding": 6}},
        "color": {"field": "n", "type": "nominal",
                  "scale": {"domain": [500, 1000, 2000, 4000, 8000], "range": ["#0072BD", "#D95319", "#EDB120", "#7E2F8E", "#77AC30"]},
                  "legend": {"orient": "none", "legendX": 174, "legendY": 196, "title": null, "symbolType": "M-2.5,0H2.5", "symbolSize": 100, "symbolStrokeWidth": 1.5, "symbolOffset": 7.5,
                             "labelFont": "Liberation Mono", "labelFontSize": 13, "labelColor": "#000000", "labelOffset": 17, "labelExpr": "'n = ' + datum.label",
                             "padding": 3, "rowPadding": 3, "strokeColor": "#aaaaaa", "fillColor": "#ffffff"}},
        "strokeDash": {"field": "k", "type": "nominal", "scale": {"domain": ["s", "d", "c"], "range": [[1, 0], [1.5, 1.5], [5, 2, 1.5, 2]]}, "legend": null}
      }
    },
    {
      "mark": {"type": "line", "opacity": 0},
      "encoding": {
        "x": {"field": "x", "type": "quantitative", "axis": {"orient": "top", "values": [0,50,100,150,200,250,300,350,400], "labels": false, "domain": false, "title": null, "tickSize": -4}},
        "y": {"field": "y", "type": "quantitative", "axis": {"orient": "right", "values": [-3,-2.9,-2.8,-2.7,-2.6,-2.5,-2.4,-2.3,-2.2], "labels": false, "domain": false, "title": null, "tickSize": -4}}
      }
    }
  ],
  "resolve": {"axis": {"x": "independent", "y": "independent"}}
}
